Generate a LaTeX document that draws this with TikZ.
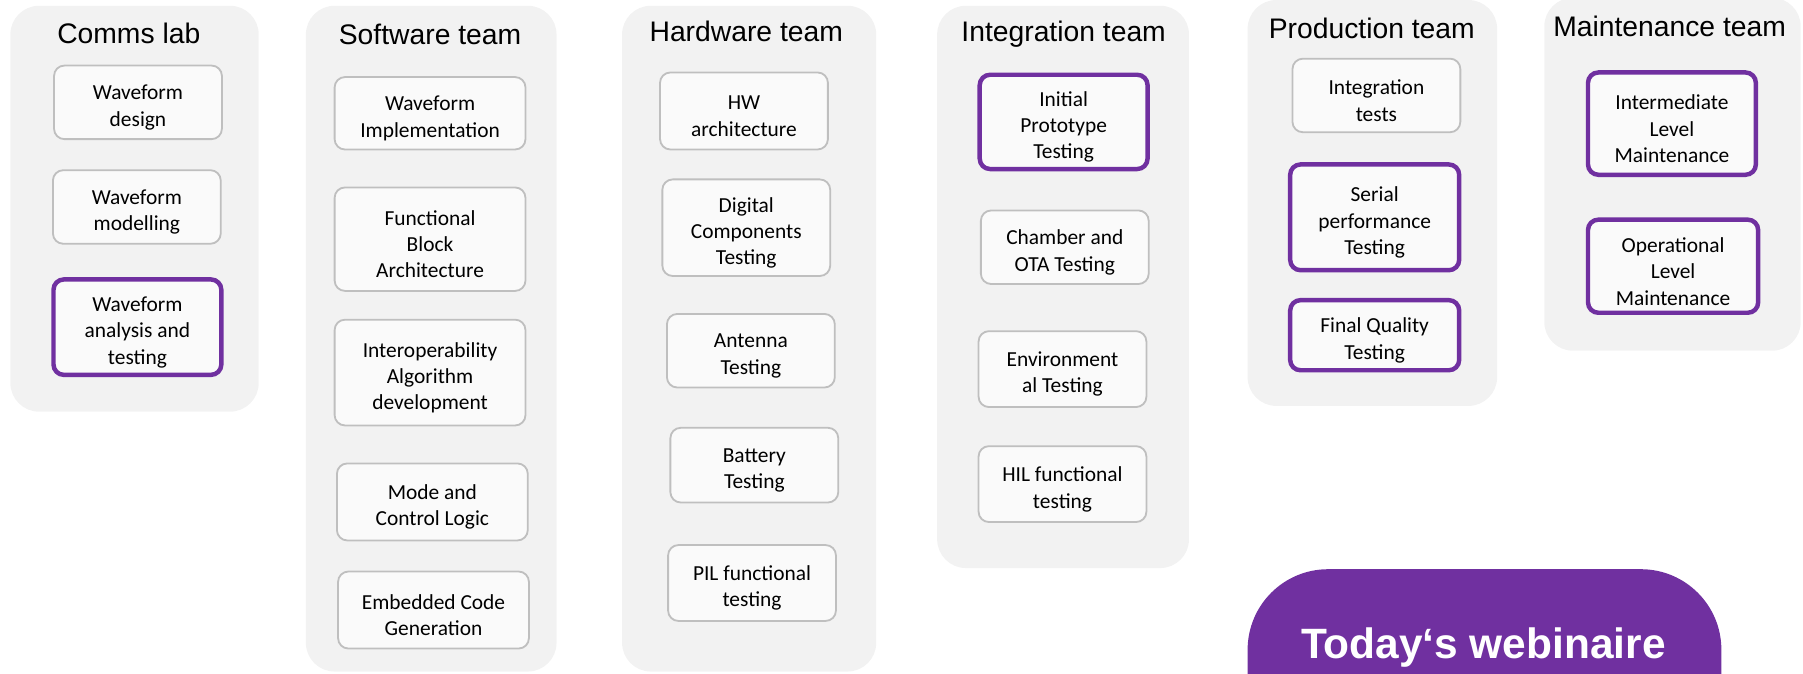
\documentclass[tikz,border=0pt]{standalone}
\usepackage{fontspec}
\setmainfont{Carlito}
\newfontfamily\titrefont{Liberation Sans}
\definecolor{violetfonce}{HTML}{7030A0}
\definecolor{fondgris}{HTML}{F2F2F2}
\definecolor{fondtache}{HTML}{FAFAFA}
\definecolor{bordgris}{HTML}{BFBFBF}
\begin{document}
\begin{tikzpicture}[x=0.02cm, y=-0.02cm]
		\tikzset{equipe/.style={fill=fondgris, rounded corners=0.5cm}}
		\tikzset{titre/.style={font=\titrefont\fontsize{14}{16}\selectfont}}
		\tikzset{tache/.style={draw=bordgris, line width=0.9pt, fill=fondtache, rounded corners=0.18cm, inner sep=0pt, minimum width=2.92cm}}
		\tikzset{tachecle/.style={tache, draw=violetfonce, line width=2.2pt}}
		\tikzset{texte/.style={align=center, inner sep=0pt, yshift=-0.09cm, font=\fontsize{10.6}{13}\selectfont}}

		\useasboundingbox (0,0) rectangle (1568,586);
		\clip (0,0) rectangle (1568,586);

		\path[equipe] (9,5) rectangle (225,358);
		\path[equipe] (266,5) rectangle (484,584);
		\path[equipe] (541,5) rectangle (762,584);
		\path[equipe] (815,5) rectangle (1034,494);
		\path[equipe] (1085,0) rectangle (1302,353);
		\path[equipe] (1343,-2) rectangle (1566,305);

		\node[titre] (comms) at (112,29) {Comms lab};
		\node[titre] (logiciel) at (374,30) {Software team};
		\node[titre] (materiel) at (649,27) {Hardware team};
		\node[titre] (integ) at (925,30) {Integration team};
		\node[titre] (prod) at (1193,25) {Production team};
		\node[titre] (maint) at (1452,23) {Maintenance team};

		\node[tache, minimum height=1.28cm, label={[texte]center:Waveform\\design}] (C1) at (120,89) {};
		\node[tache, minimum height=1.28cm, label={[texte]center:Waveform\\modelling}] (C2) at (119,180) {};
		\node[tachecle, minimum height=1.66cm, label={[texte]center:Waveform\\analysis and\\testing}] (C3) at (119.5,284.5) {};

		\node[tache, minimum width=3.32cm, minimum height=1.26cm, label={[texte]center:Waveform\\Implementation}] (S1) at (374,98.5) {};
		\node[tache, minimum width=3.32cm, minimum height=1.8cm, label={[texte]center:Functional\\Block\\Architecture}] (S2) at (374,208) {};
		\node[tache, minimum width=3.32cm, minimum height=1.84cm, label={[texte]center:Interoperability\\Algorithm\\development}] (S3) at (374,324) {};
		\node[tache, minimum width=3.32cm, minimum height=1.34cm, label={[texte]center:Mode and\\Control Logic}] (S4) at (376,436.5) {};
		\node[tache, minimum width=3.32cm, minimum height=1.34cm, label={[texte]center:Embedded Code\\Generation}] (S5) at (377,530.5) {};

		\node[tache, minimum height=1.34cm, label={[texte]center:HW\\architecture}] (H1) at (647,96.5) {};
		\node[tache, minimum height=1.68cm, label={[texte]center:Digital\\Components\\Testing}] (H2) at (649,198) {};
		\node[tache, minimum height=1.28cm, label={[texte]center:Antenna\\Testing}] (H3) at (653,305) {};
		\node[tache, minimum height=1.3cm, label={[texte]center:Battery\\Testing}] (H4) at (656,404.5) {};
		\node[tache, minimum height=1.32cm, label={[texte]center:PIL functional\\testing}] (H5) at (654,507) {};

		\node[tachecle, minimum height=1.64cm, label={[texte]center:Initial\\Prototype\\Testing}] (I1) at (925,106) {};
		\node[tache, minimum height=1.28cm, label={[texte]center:Chamber and\\OTA Testing}] (I2) at (926,215) {};
		\node[tache, minimum height=1.32cm, label={[texte]center:Environment\\al Testing}] (I3) at (924,321) {};
		\node[tache, minimum height=1.32cm, label={[texte]center:HIL functional\\testing}] (I4) at (924,421) {};

		\node[tache, minimum height=1.28cm, label={[texte]center:Integration\\tests}] (P1) at (1197,83) {};
		\node[tachecle, minimum width=2.94cm, minimum height=1.84cm, label={[texte]center:Serial\\performance\\Testing}] (P2) at (1195.5,189) {};
		\node[tachecle, minimum width=2.94cm, minimum height=1.22cm, label={[texte]center:Final Quality\\Testing}] (P3) at (1195.5,291.5) {};

		\node[tachecle, minimum height=1.78cm, label={[texte]center:Intermediate\\Level\\Maintenance}] (M1) at (1454,107.5) {};
		\node[tachecle, minimum width=2.96cm, minimum height=1.62cm, label={[texte]center:Operational\\Level\\Maintenance}] (M2) at (1455,231.5) {};

		\fill[violetfonce, rounded corners=1.4cm] (1085,495) rectangle (1497,680);
		\node[text=white, font=\titrefont\bfseries\fontsize{21}{24}\selectfont] (webinaire) at (1290,563) {Today‘s webinaire};

\end{tikzpicture}
\end{document}
